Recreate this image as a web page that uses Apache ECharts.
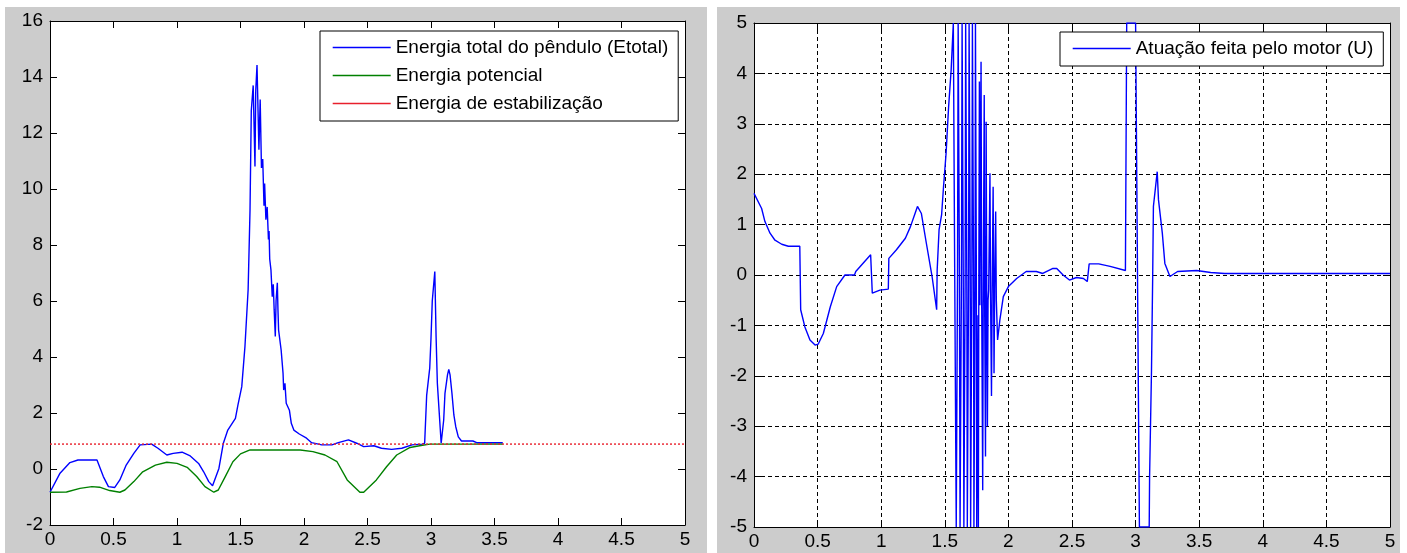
<!DOCTYPE html>
<html>
<head>
<meta charset="utf-8">
<title>Energia do pêndulo e atuação do motor</title>
<script src="https://cdn.jsdelivr.net/npm/echarts@6/dist/echarts.min.js"></script>
<style>
    html,body{margin:0;padding:0;background:#fff;}
    #chart{width:1407px;height:553px;}
</style>
</head>
<body>
<div id="chart"></div>
<script>
// ticks of both plots (time in s)
const timeTicks=[0,0.5,1,1.5,2,2.5,3,3.5,4,4.5,5];
const energyTicks=[-2,0,2,4,6,8,10,12,14,16];
const motorTicks=[-5,-4,-3,-2,-1,0,1,2,3,4,5];

const energyNames=["Energia total do pêndulo (Etotal)","Energia potencial","Energia de estabilização"];
const motorName="Atuação feita pelo motor (U)";

// [t, E]
const totalEnergy=[
    [0,-0.83],[0.079,-0.15],[0.157,0.23],[0.22,0.32],[0.37,0.32],[0.42,-0.27],[0.46,-0.63],
    [0.51,-0.66],[0.55,-0.39],[0.60,0.14],[0.66,0.56],[0.71,0.86],[0.80,0.89],[0.85,0.74],
    [0.92,0.5],[0.97,0.56],[1.04,0.6],[1.10,0.48],[1.17,0.2],[1.21,-0.1],[1.25,-0.45],
    [1.28,-0.6],[1.33,0.02],[1.365,0.92],[1.40,1.39],[1.46,1.81],[1.48,2.29],[1.51,2.94],
    [1.535,4.37],[1.56,6.4],[1.575,9.25],[1.585,12.8],[1.60,13.7],[1.614,10.8],[1.62,13.5],
    [1.63,14.43],[1.645,11.4],[1.655,13.2],[1.665,10.75],[1.675,11.07],[1.685,9.4],[1.69,10.2],
    [1.70,8.9],[1.71,9.36],[1.72,8.2],[1.725,8.5],[1.73,7.5],[1.74,7.1],[1.75,6.15],[1.758,6.6],
    [1.765,5.7],[1.774,4.73],[1.78,6.0],[1.79,6.65],[1.795,5.68],[1.80,4.96],[1.81,5.0],
    [1.82,4.25],[1.835,3.42],[1.84,2.82],[1.85,3.06],[1.86,2.35],[1.875,2.29],[1.885,2.1],
    [1.90,1.63],[1.92,1.39],[1.963,1.25],[2.02,1.1],[2.06,0.94],[2.14,0.86],
    [2.22,0.86],[2.27,0.94],[2.35,1.04],[2.415,0.92],[2.47,0.8],[2.55,0.83],[2.61,0.74],
    [2.69,0.7],[2.77,0.74],[2.85,0.86],[2.93,0.89],[2.95,0.92],[2.966,2.64],[2.99,3.6],
    [3.0,4.67],[3.01,6.0],[3.03,7.05],[3.04,4.73],[3.05,3.06],[3.065,1.99],[3.08,0.92],
    [3.09,0.92],[3.10,1.75],[3.11,2.7],[3.13,3.36],[3.14,3.56],[3.15,3.36],[3.165,2.7],
    [3.18,1.93],[3.195,1.51],[3.215,1.15],[3.24,1.0],[3.33,1.0],[3.36,0.94],[3.565,0.94]
];
const potentialEnergy=[
    [0,-0.83],[0.13,-0.82],[0.236,-0.69],[0.33,-0.63],[0.39,-0.65],[0.47,-0.77],[0.55,-0.83],
    [0.59,-0.75],[0.66,-0.45],[0.73,-0.1],[0.83,0.14],[0.92,0.24],[1.0,0.2],[1.08,0.06],
    [1.155,-0.27],[1.22,-0.63],[1.29,-0.83],[1.325,-0.75],[1.38,-0.27],[1.44,0.26],[1.50,0.54],
    [1.575,0.68],[1.97,0.68],[2.07,0.62],[2.165,0.5],[2.26,0.26],[2.34,-0.39],[2.44,-0.83],
    [2.47,-0.83],[2.57,-0.39],[2.65,0.08],[2.73,0.5],[2.835,0.77],[2.91,0.83],[2.99,0.89],
    [3.565,0.89]
];
const stabilizationEnergy=[[0,0.89],[5,0.89]];

// [t, U] (saturated at +-5)
const motorU=[
    [0,1.62],[0.06,1.32],[0.086,1.06],[0.126,0.83],[0.165,0.69],[0.218,0.61],[0.27,0.57],
    [0.36,0.57],[0.367,-0.69],[0.40,-1.03],[0.44,-1.29],[0.48,-1.39],[0.505,-1.37],[0.545,-1.16],
    [0.6,-0.63],[0.65,-0.23],[0.715,0],[0.79,0],[0.80,0.07],[0.917,0.40],[0.93,-0.36],
    [0.99,-0.30],[1.056,-0.28],[1.06,0.33],[1.12,0.5],[1.19,0.73],[1.23,0.96],[1.266,1.22],
    [1.285,1.36],[1.316,1.22],[1.355,0.63],[1.40,-0.03],[1.436,-0.69],[1.44,0.1],[1.455,0.9],
    [1.475,1.2],[1.49,1.75],[1.51,2.41],[1.53,3.34],[1.55,4.07],[1.567,5],
    [1.575,5],[1.578,0],[1.588,0],[1.59,-5],[1.598,-5],[1.60,0],[1.605,5],[1.612,5],[1.615,0],
    [1.62,-5],[1.628,-5],[1.631,0],[1.636,5],[1.642,5],[1.645,0],[1.65,-5],[1.657,-5],[1.66,0],
    [1.664,5],[1.67,5],[1.673,0],[1.677,-5],[1.684,-5],[1.687,0],[1.691,5],[1.697,5],[1.70,0],
    [1.703,-5],[1.71,-5],[1.713,0],[1.717,5],[1.723,5],[1.726,0],[1.729,-5],[1.735,-5],[1.738,0],
    [1.741,5],[1.745,5],[1.748,0],[1.751,-5],[1.758,-5],[1.761,-0.8],[1.764,-5],[1.767,-0.7],
    [1.772,3.84],[1.776,-0.6],[1.785,4.23],[1.79,-0.5],[1.798,-4.27],[1.802,-0.6],[1.81,3.57],
    [1.813,-0.4],[1.82,-3.6],[1.825,3.04],[1.83,-0.5],[1.835,-3.0],[1.84,-0.5],[1.845,-0.3],
    [1.855,2.02],[1.86,-0.5],[1.867,-2.4],[1.872,-0.4],[1.88,1.75],[1.884,-0.3],[1.887,-1.95],
    [1.892,-0.3],[1.9,1.26],[1.905,-0.5],[1.915,-1.29],[1.933,-0.89],[1.96,-0.43],[2.0,-0.23],
    [2.065,-0.07],[2.14,0.07],[2.22,0.07],[2.27,0.03],[2.35,0.13],[2.38,0.13],[2.43,0],
    [2.48,-0.1],[2.535,-0.05],[2.59,-0.07],[2.62,-0.13],[2.635,0.22],[2.71,0.22],[2.80,0.17],
    [2.92,0.09],[2.93,5],[3.0,5],[3.03,-5],[3.107,-5],[3.11,-4.0],[3.12,-4.0],[3.125,-1.89],
    [3.13,-1.89],[3.134,-0.1],[3.14,1.36],[3.17,2.05],[3.18,1.49],[3.21,0.83],[3.23,0.23],
    [3.27,-0.03],[3.33,0.07],[3.48,0.09],[3.59,0.05],[3.7,0.03],[5,0.03]
];

const FONT="Liberation Sans, Arial, sans-serif";
const gridLine={show:true,lineStyle:{color:"#000",type:[4,3],width:1}};

function valueAxis(ticks,gridIndex,position,withLabel,split){
    return {
        type:"value",
        gridIndex:gridIndex,
        position:position,
        min:ticks[0],
        max:ticks[ticks.length-1],
        interval:ticks[1]-ticks[0],
        axisLine:{show:true,onZero:false,lineStyle:{color:"#000",width:1}},
        axisTick:{show:true,inside:true,length:7,lineStyle:{color:"#000"}},
        axisLabel:{show:withLabel,color:"#000",fontFamily:FONT,fontSize:19,
            margin:position==="bottom"?5:7},
        splitLine:split?gridLine:{show:false}
    };
}

function legendBox(names,left,top,gap){
    return {
        data:names,
        orient:"vertical",
        left:left,top:top,
        itemWidth:58,itemHeight:14,itemGap:gap,
        padding:[7,10,8,12],
        backgroundColor:"#fff",
        borderColor:"#000",borderWidth:1,borderRadius:0,
        itemStyle:{opacity:0},
        lineStyle:{type:"solid",width:1.4},
        textStyle:{color:"#000",fontFamily:FONT,fontSize:19}
    };
}

const option={
    animation:false,
    backgroundColor:"#fff",
    graphic:[
        {type:"rect",silent:true,z:-10,shape:{x:5,y:7,width:702,height:546},style:{fill:"#ccc"}},
        {type:"rect",silent:true,z:-10,shape:{x:717,y:7,width:683,height:546},style:{fill:"#ccc"}}
    ],
    grid:[
        {left:50,top:21,width:635,height:504,show:true,backgroundColor:"#fff",borderWidth:0},
        {left:754,top:23,width:636,height:504,show:true,backgroundColor:"#fff",borderWidth:0}
    ],
    legend:[
        legendBox(energyNames,320,31,9),
        legendBox([motorName],1060,32,9)
    ],
    xAxis:[
        valueAxis(timeTicks,0,"bottom",true,false),
        valueAxis(timeTicks,0,"top",false,false),
        valueAxis(timeTicks,1,"bottom",true,true),
        valueAxis(timeTicks,1,"top",false,false)
    ],
    yAxis:[
        valueAxis(energyTicks,0,"left",true,false),
        valueAxis(energyTicks,0,"right",false,false),
        valueAxis(motorTicks,1,"left",true,true),
        valueAxis(motorTicks,1,"right",false,false)
    ],
    series:[
        {name:energyNames[0],type:"line",xAxisIndex:0,yAxisIndex:0,data:totalEnergy,
            symbol:"none",color:"#0000ff",lineStyle:{width:1.4,color:"#0000ff"}},
        {name:energyNames[1],type:"line",xAxisIndex:0,yAxisIndex:0,data:potentialEnergy,
            symbol:"none",color:"#008000",lineStyle:{width:1.4,color:"#008000"}},
        {name:energyNames[2],type:"line",xAxisIndex:0,yAxisIndex:0,data:stabilizationEnergy,
            symbol:"none",color:"#ff0000",lineStyle:{width:1.4,color:"#e8202c",type:[2,2]}},
        {name:motorName,type:"line",xAxisIndex:2,yAxisIndex:2,data:motorU,
            symbol:"none",color:"#0000ff",lineStyle:{width:1.4,color:"#0000ff"}}
    ]
};

const chart=echarts.init(document.getElementById("chart"));
chart.setOption(option);
</script>
</body>
</html>
